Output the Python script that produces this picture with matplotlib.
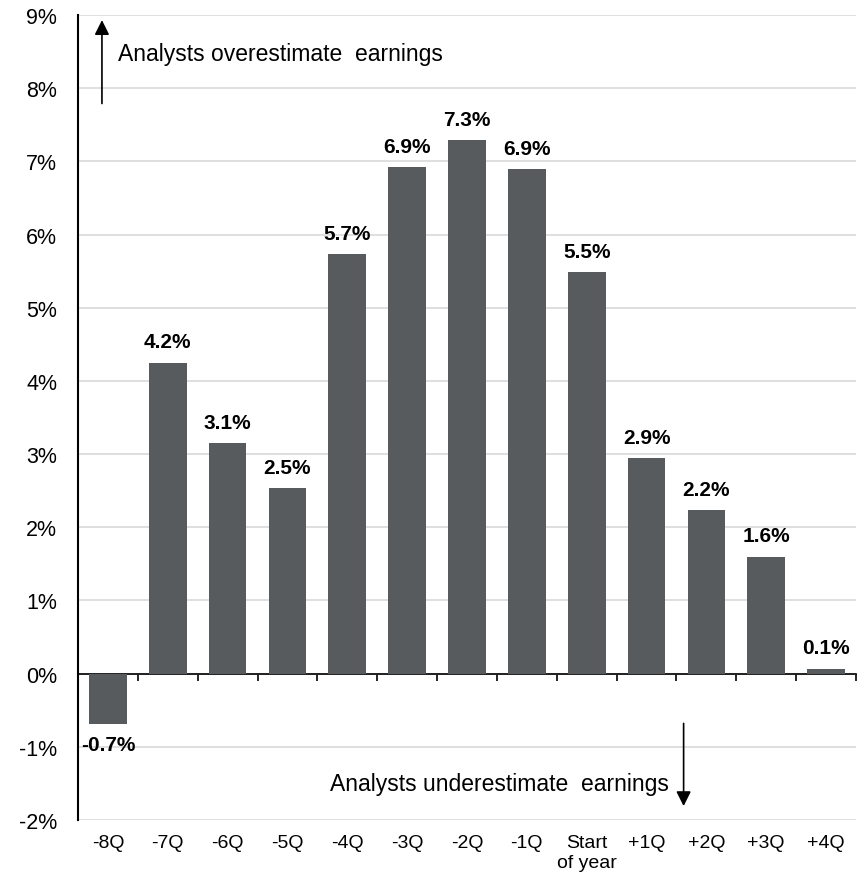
import matplotlib.pyplot as plt
import numpy as np

plt.rcParams['font.family'] = ['Liberation Sans', 'DejaVu Sans']

# Données
categories = ["-8Q", "-7Q", "-6Q", "-5Q", "-4Q", "-3Q", "-2Q", "-1Q",
              "Start\nof year", "+1Q", "+2Q", "+3Q", "+4Q"]
valeurs = [-0.69, 4.25, 3.15, 2.54, 5.73, 6.92, 7.29, 6.89, 5.49, 2.94, 2.23, 1.60, 0.07]
etiquettes = ["-0.7%", "4.2%", "3.1%", "2.5%", "5.7%", "6.9%", "7.3%", "6.9%",
              "5.5%", "2.9%", "2.2%", "1.6%", "0.1%"]
graduations_y = list(range(-2, 10))

couleur_barre = "#585b5e"

fig = plt.figure(figsize=(8.6, 8.78), dpi=100)
ax = fig.add_axes([0.0907, 0.0649, 0.9046, 0.9169])

x = np.arange(len(categories))
ax.bar(x, valeurs, width=0.63, color=couleur_barre, zorder=3)

# Etiquettes des barres
for xi, v, lab in zip(x, valeurs, etiquettes):
    if v >= 0:
        ax.annotate(lab, (xi, v), xytext=(0, 8), textcoords="offset points",
                    ha="center", va="bottom", fontsize=15, fontweight="bold")
    else:
        ax.annotate(lab, (xi, v), xytext=(0, -8), textcoords="offset points",
                    ha="center", va="top", fontsize=15, fontweight="bold")

ax.set_xlim(-0.5, len(categories) - 0.5)
ax.set_ylim(-2, 9)
ax.set_yticks(graduations_y)
ax.set_yticklabels([f"{g}%" for g in graduations_y], fontsize=15.5)
ax.tick_params(axis="y", length=0, pad=15)
ax.yaxis.grid(True, color="#d9d9d9", linewidth=1.2, zorder=0)
ax.set_axisbelow(True)

# Axe des x placé à zéro, avec des graduations entre les catégories
ax.spines["bottom"].set_position(("data", 0))
ax.spines["bottom"].set_linewidth(1.2)
ax.spines["left"].set_linewidth(1.5)
ax.spines["top"].set_visible(False)
ax.spines["right"].set_visible(False)
ax.set_xticks(x)
ax.set_xticklabels([])
ax.tick_params(axis="x", which="major", length=0)
ax.set_xticks(np.arange(len(categories) + 1) - 0.5, minor=True)
ax.tick_params(axis="x", which="minor", length=5, width=1.2, direction="out")

# Libellés des catégories en bas du graphique
for xi, cat in zip(x, categories):
    ax.annotate(cat, (xi, -2), xytext=(0, -10), textcoords="offset points",
                ha="center", va="top", fontsize=14, linespacing=1.2,
                annotation_clip=False)

# Flèches et commentaires
ax.annotate("", xy=(-0.1, 8.93), xytext=(-0.1, 7.79),
            arrowprops=dict(arrowstyle="-|>", color="black", lw=1.2,
                            mutation_scale=22, shrinkA=0, shrinkB=0))
ax.text(0.17, 8.48, "Analysts overestimate  earnings", fontsize=16.5,
        ha="left", va="center")

ax.annotate("", xy=(9.62, -1.81), xytext=(9.62, -0.68),
            arrowprops=dict(arrowstyle="-|>", color="black", lw=1.2,
                            mutation_scale=22, shrinkA=0, shrinkB=0))
ax.text(9.37, -1.50, "Analysts underestimate  earnings", fontsize=16.5,
        ha="right", va="center")

plt.savefig("out.png", dpi=100)
